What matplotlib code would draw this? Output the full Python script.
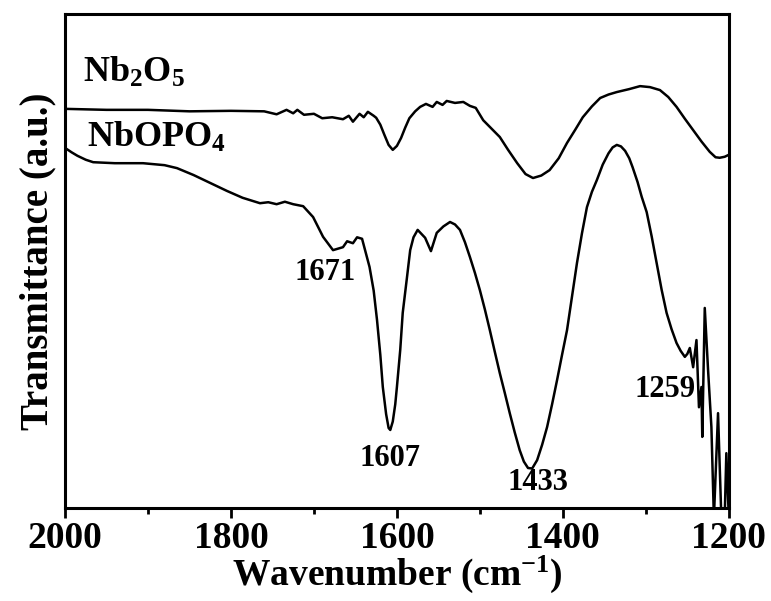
import matplotlib
matplotlib.use("Agg")
import matplotlib.pyplot as plt
from matplotlib.ticker import MultipleLocator

plt.rcParams["font.family"] = ["Liberation Serif", "DejaVu Serif"]
plt.rcParams["font.weight"] = "bold"
plt.rcParams["mathtext.default"] = "regular"

# FTIR traces, wavenumber (cm-1) vs transmittance (a.u.)
nb2o5_wn = [2000, 1950, 1900, 1850, 1800, 1760, 1745, 1733, 1725, 1720, 1712,
            1700, 1690, 1678, 1665, 1658, 1653, 1645, 1640, 1635, 1628, 1625,
            1620, 1615, 1610, 1605, 1600, 1595, 1590, 1585, 1578, 1572, 1565,
            1557, 1552, 1545, 1540, 1530, 1520, 1512, 1505, 1496, 1486, 1476,
            1466, 1455, 1445, 1436, 1426, 1416, 1405, 1395, 1385, 1376, 1365,
            1355, 1345, 1335, 1320, 1307, 1295, 1283, 1273, 1263, 1253, 1243,
            1233, 1223, 1216, 1211, 1205, 1200]
nb2o5_t = [80.8, 80.6, 80.6, 80.3, 80.4, 80.3, 79.7, 80.6, 79.9, 80.6, 79.6,
           79.8, 78.9, 79.1, 78.7, 79.4, 78.2, 79.8, 79.1, 80.2, 79.4, 79.0,
           77.6, 75.5, 73.5, 72.5, 73.3, 74.9, 77.0, 78.9, 80.3, 81.2, 81.8,
           81.2, 82.2, 81.6, 82.4, 82.0, 82.2, 81.4, 81.0, 78.5, 76.8, 75.1,
           72.5, 69.8, 67.6, 66.8, 67.3, 68.4, 70.8, 73.9, 76.6, 79.1, 81.3,
           83.0, 83.7, 84.2, 84.8, 85.4, 85.2, 84.6, 83.2, 81.2, 78.8, 76.5,
           74.2, 72.1, 71.0, 70.9, 71.1, 71.5]

nbopo4_wn = [2000, 1992, 1985, 1975, 1966, 1940, 1906, 1880, 1865, 1845, 1825,
             1805, 1786, 1765, 1755, 1745, 1735, 1725, 1713, 1701, 1689, 1677,
             1665, 1660, 1653, 1648, 1642, 1633, 1628, 1624, 1620, 1617, 1613,
             1610, 1608, 1605, 1602, 1600, 1596, 1593, 1588, 1584, 1580, 1575,
             1566, 1559, 1552, 1544, 1536, 1530, 1524, 1518, 1512, 1506, 1500,
             1494, 1488, 1482, 1476, 1470, 1464, 1458, 1452, 1447, 1442, 1437,
             1431, 1425, 1419, 1413, 1407, 1401, 1395, 1389, 1383, 1377, 1371,
             1365, 1359, 1352, 1345, 1340, 1335, 1330, 1325, 1320, 1316, 1310,
             1305, 1299, 1293, 1287, 1281, 1275, 1269, 1263, 1258, 1253, 1250,
             1247, 1243, 1239, 1236, 1233, 1232, 1229, 1225, 1221, 1218, 1213,
             1209, 1205, 1203, 1200]
nbopo4_t = [72.9, 72.0, 71.3, 70.5, 70.0, 69.8, 69.8, 69.4, 68.8, 67.4, 65.8,
            64.2, 62.8, 61.7, 61.9, 61.5, 62.0, 61.5, 61.1, 58.9, 54.9, 52.2,
            52.8, 54.0, 53.6, 54.8, 54.5, 48.8, 44.0, 38.1, 31.0, 24.5, 19.0,
            16.2, 15.8, 17.5, 21.0, 24.5, 32.0, 39.5, 46.5, 52.2, 54.8, 56.3,
            54.7, 52.0, 55.7, 57.0, 57.9, 57.4, 56.3, 53.8, 50.8, 47.6, 44.1,
            40.2, 36.0, 31.6, 27.3, 23.3, 19.2, 15.3, 11.7, 9.4, 8.1, 8.0,
            9.7, 12.8, 16.4, 21.0, 25.9, 31.0, 36.0, 42.8, 49.6, 55.6, 60.9,
            64.0, 66.4, 69.5, 71.8, 73.0, 73.5, 73.2, 72.3, 70.8, 69.0, 66.0,
            63.0, 59.9, 55.0, 49.6, 44.2, 39.5, 36.2, 33.4, 31.8, 30.6, 31.2,
            32.4, 28.5, 34.0, 20.4, 24.5, 14.4, 40.5, 27.9, 16.4, -2.0, 19.2,
            -2.0, -2.0, 11.1, -2.0]

peak_labels = ["1671", "1607", "1433", "1259"]

fig = plt.figure(figsize=(7.71, 6.01), dpi=100)
ax = fig.add_axes([0.0843, 0.1547, 0.861, 0.822])

ax.plot(nb2o5_wn, nb2o5_t, color="black", linewidth=1.8,
        solid_joinstyle="round")
ax.plot(nbopo4_wn, nbopo4_t, color="black", linewidth=1.8,
        solid_joinstyle="round")

ax.set_xlim(2000, 1200)
ax.set_ylim(0, 100)

ax.xaxis.set_major_locator(MultipleLocator(200))
ax.xaxis.set_minor_locator(MultipleLocator(100))
ax.tick_params(axis="x", which="major", direction="out", length=7, width=2,
               labelsize=27, pad=2)
ax.tick_params(axis="x", which="minor", direction="out", length=4, width=2)
ax.tick_params(axis="y", which="both", left=False, labelleft=False)
for spine in ax.spines.values():
    spine.set_linewidth(2.2)

ax.set_xlabel("Wavenumber (cm$^{-1}$)", fontsize=27, fontweight="bold",
              labelpad=-1)
ax.set_ylabel("Transmittance (a.u.)", fontsize=28, fontweight="bold",
              labelpad=6)

# sample names
ax.text(1978, 86.2, "Nb$_{2}$O$_{5}$", fontsize=26, fontweight="bold",
        ha="left", va="baseline")
ax.text(1973, 73.1, "NbOPO$_{4}$", fontsize=26, fontweight="bold",
        ha="left", va="baseline")

# band assignments
label_pos = [(1687, 47.6), (1608, 10.1), (1430, 5.1), (1277, 23.9)]
for txt, (x, y) in zip(peak_labels, label_pos):
    ax.text(x, y, txt, fontsize=22, fontweight="bold", ha="center", va="center")

fig.savefig("out.png", dpi=100)
